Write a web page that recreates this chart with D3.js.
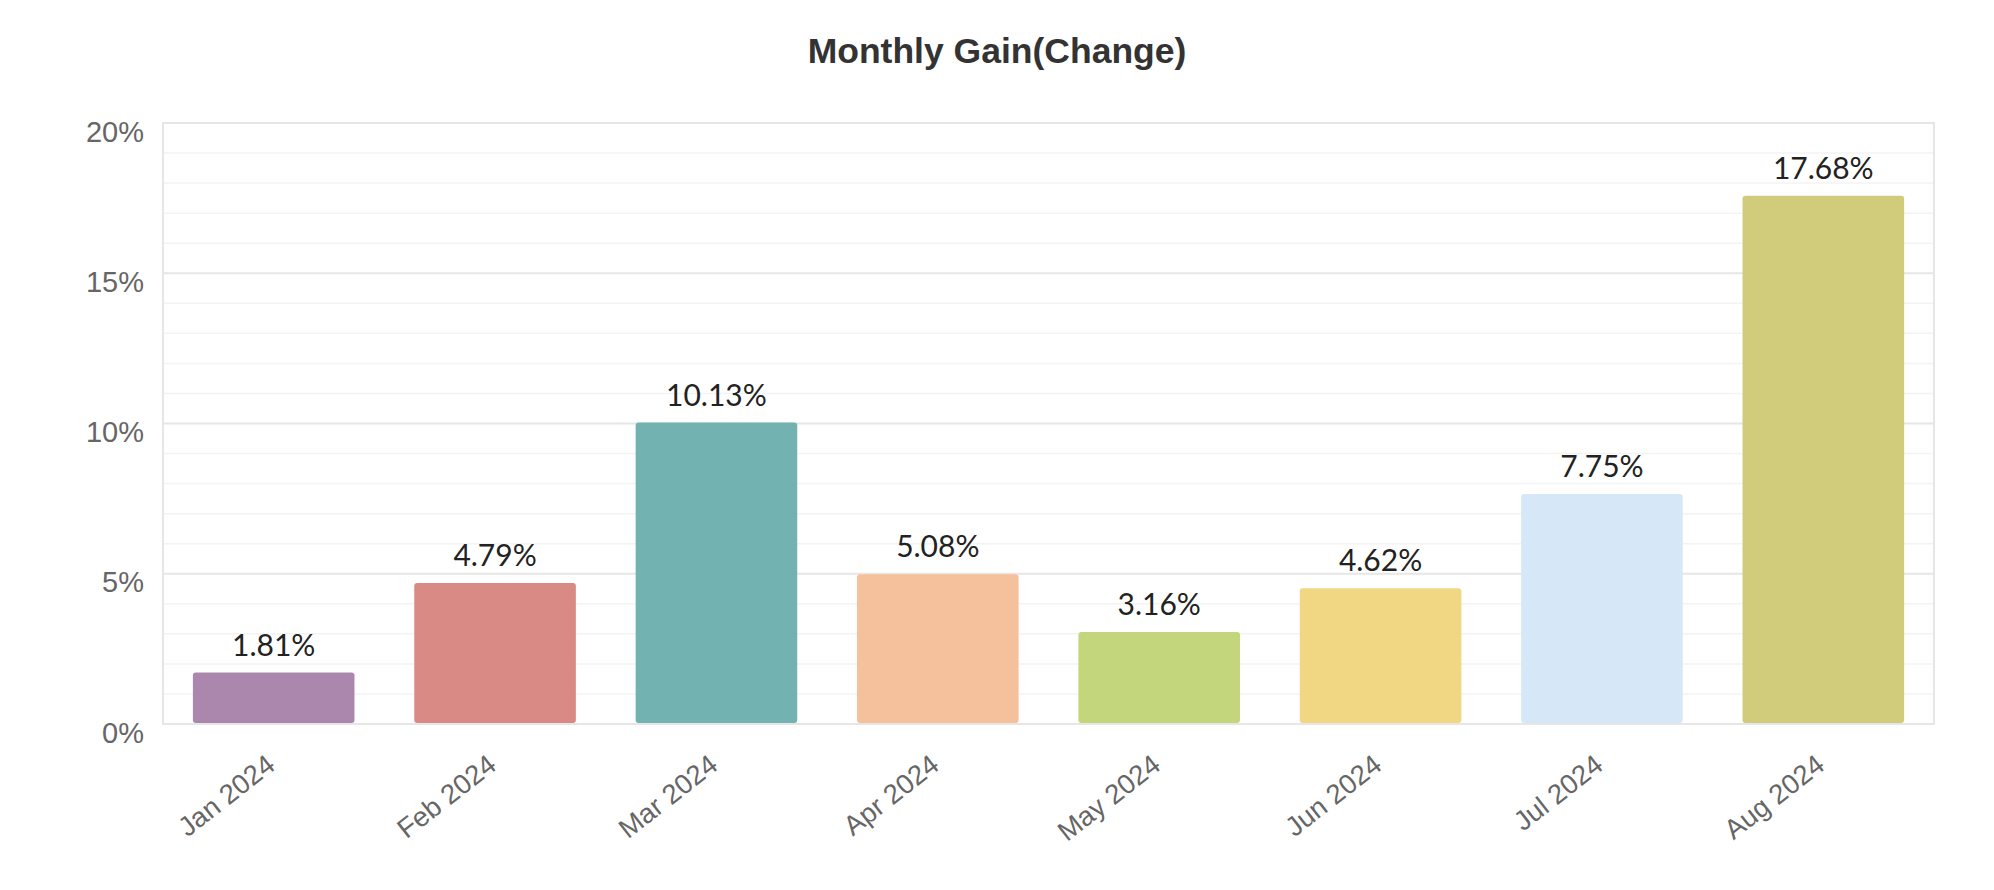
<!DOCTYPE html>
<html>
<head>
<meta charset="utf-8">
<script src="https://cdn.jsdelivr.net/npm/d3@7"></script>
<style>
  html, body { margin: 0; padding: 0; background: #ffffff; }
  svg { display: block; }
</style>
</head>
<body>
<svg id="chart" width="1994" height="890"></svg>
<script>
const months = ["Jan 2024", "Feb 2024", "Mar 2024", "Apr 2024", "May 2024", "Jun 2024", "Jul 2024", "Aug 2024"];
const gains = [1.81, 4.79, 10.13, 5.08, 3.16, 4.62, 7.75, 17.68];
const barColors = ["#ab87ae", "#d98a85", "#72b2b1", "#f5c19c", "#c3d67c", "#f1d684", "#d6e8f8", "#d0cc7b"];
const yTicks = [0, 5, 10, 15, 20];
const yMinorTicks = [1, 2, 3, 4, 6, 7, 8, 9, 11, 12, 13, 14, 16, 17, 18, 19];
const titleText = "Monthly Gain(Change)";

const W = 1994, H = 890;
const margin = { left: 163, right: 60, top: 123, bottom: 166 };
const svg = d3.select("#chart");

const x = d3.scaleBand()
  .domain(months)
  .range([margin.left, W - margin.right])
  .paddingInner(0.27)
  .paddingOuter(0.135);

const y = d3.scaleLinear()
  .domain([0, 20])
  .range([H - margin.bottom, margin.top]);

// minor grid
svg.append("g").selectAll("line").data(yMinorTicks).join("line")
  .attr("x1", margin.left).attr("x2", W - margin.right)
  .attr("y1", d => y(d)).attr("y2", d => y(d))
  .attr("stroke", "#f3f3f3").attr("stroke-width", 1.5);

// major grid
svg.append("g").selectAll("line").data(yTicks).join("line")
  .attr("x1", margin.left).attr("x2", W - margin.right)
  .attr("y1", d => y(d)).attr("y2", d => y(d))
  .attr("stroke", "#e6e6e6").attr("stroke-width", 2);

// plot border
svg.append("rect")
  .attr("x", margin.left).attr("y", margin.top)
  .attr("width", W - margin.right - margin.left)
  .attr("height", H - margin.bottom - margin.top)
  .attr("fill", "none").attr("stroke", "#e6e6e6").attr("stroke-width", 2);

// bars
const barTopInset = 3;
svg.append("g").selectAll("rect").data(gains).join("rect")
  .attr("x", (d, i) => x(months[i]))
  .attr("width", x.bandwidth())
  .attr("y", d => y(d) + barTopInset)
  .attr("height", d => y(0) - y(d) - barTopInset - 1)
  .attr("rx", 3).attr("ry", 3)
  .attr("fill", (d, i) => barColors[i]);

// value labels
svg.append("g").selectAll("text").data(gains).join("text")
  .attr("x", (d, i) => x(months[i]) + x.bandwidth() / 2)
  .attr("y", d => y(d) + barTopInset - 17)
  .attr("text-anchor", "middle")
  .attr("font-family", "Lato, 'DejaVu Sans', sans-serif")
  .attr("font-size", 30)
  .attr("fill", "#222222")
  .text(d => d.toFixed(2) + "%");

// y axis labels
const yAxis = d3.axisLeft(y).tickValues(yTicks).tickFormat(d => d + "%").tickSize(0).tickPadding(19);
const yg = svg.append("g").attr("transform", `translate(${margin.left},0)`).call(yAxis);
yg.select(".domain").remove();
yg.selectAll("text")
  .attr("font-family", "'Liberation Sans', Arial, sans-serif")
  .attr("font-size", 29)
  .attr("fill", "#666666")
  .attr("dy", 18)
  .attr("y", 0);

// x axis labels
const xAxis = d3.axisBottom(x).tickSize(0).tickPadding(0);
const xg = svg.append("g").attr("transform", `translate(0,${y(0)})`).call(xAxis);
xg.select(".domain").remove();
xg.selectAll("text")
  .attr("font-family", "'Liberation Sans', Arial, sans-serif")
  .attr("font-size", 27.5)
  .attr("fill", "#666666")
  .attr("text-anchor", "end")
  .attr("x", 0).attr("y", 0).attr("dy", 0)
  .attr("transform", "translate(3,44) rotate(-38)");

// title
svg.append("text")
  .attr("x", W / 2).attr("y", 63)
  .attr("text-anchor", "middle")
  .attr("font-family", "'Liberation Sans', Arial, sans-serif")
  .attr("font-weight", "bold")
  .attr("font-size", 35.5)
  .attr("fill", "#333333")
  .text(titleText);
</script>
</body>
</html>
